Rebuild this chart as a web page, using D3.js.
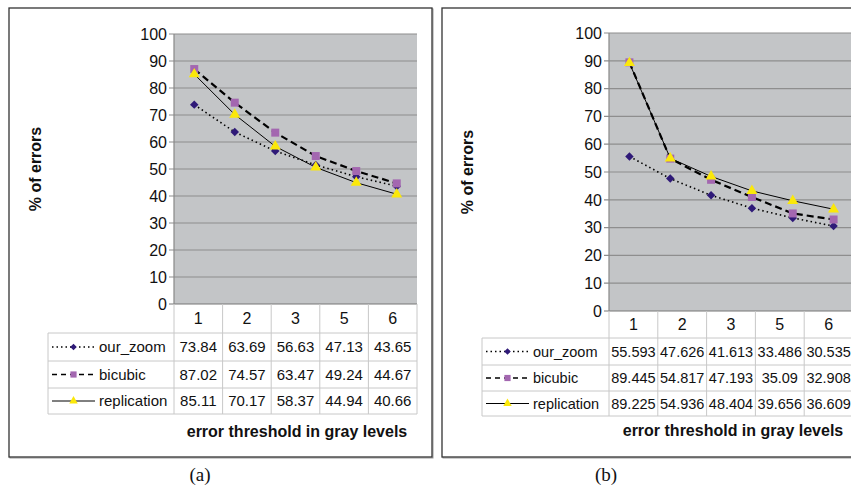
<!DOCTYPE html>
<html>
<head>
<meta charset="utf-8">
<script src="https://cdn.jsdelivr.net/npm/d3@7"></script>
<style>
  body { margin: 0; background: #fff; }
  svg { display: block; font-family: "Liberation Sans", Arial, sans-serif; }
</style>
</head>
<body>
<script>
// categories on the plot and columns shown in the table (column "4" is not in the table)
var categories = ["1", "2", "3", "4", "5", "6"];
var tableCategories = ["1", "2", "3", "5", "6"];
var seriesNames = ["our_zoom", "bicubic", "replication"];

// panel (a)
var zoomA = [73.84, 63.69, 56.63, 51.5, 47.13, 43.65];
var bicubicA = [87.02, 74.57, 63.47, 54.8, 49.24, 44.67];
var replicationA = [85.11, 70.17, 58.37, 50.6, 44.94, 40.66];
// panel (b)
var zoomB = [55.593, 47.626, 41.613, 37.0, 33.486, 30.535];
var bicubicB = [89.445, 54.817, 47.193, 41.0, 35.09, 32.908];
var replicationB = [89.225, 54.936, 48.404, 43.2, 39.656, 36.609];

var yTicks = [0, 10, 20, 30, 40, 50, 60, 70, 80, 90, 100];

var w = 851, h = 486;
var svg = d3.select("body").append("svg")
  .attr("width", w)
  .attr("height", h);

// rotate = 45 turns the square into a squat diamond like the excel marker
var styles = {
  our_zoom: { dash: "1.5,3", legendDash: "1.5,3", width: 1.6, marker: d3.symbolSquare, rotate: 45, color: "#2f1a78", size: 36 },
  bicubic: { dash: "7,4", legendDash: "5,4", width: 2.2, marker: d3.symbolSquare, rotate: 0, color: "#a367b0", size: 64 },
  replication: { dash: null, legendDash: null, width: 1, marker: d3.symbolTriangle, rotate: 0, color: "#fbe80a", size: 52 }
};

function drawPanel(cfg) {
  var g = svg.append("g");

  // frame
  g.append("rect")
    .attr("x", cfg.frame[0] + 1).attr("y", cfg.frame[1] + 1)
    .attr("width", cfg.frame[2]).attr("height", cfg.frame[3])
    .attr("fill", "none").attr("stroke", "#999").attr("stroke-width", 1);
  g.append("rect")
    .attr("x", cfg.frame[0]).attr("y", cfg.frame[1])
    .attr("width", cfg.frame[2]).attr("height", cfg.frame[3])
    .attr("fill", "#fff").attr("stroke", "#333").attr("stroke-width", 1.3);

  var x = d3.scaleBand().domain(categories).range([cfg.left, cfg.right]);
  var y = d3.scaleLinear().domain([0, 100]).range([cfg.bottom, cfg.top]);

  // plot background
  g.append("rect")
    .attr("x", cfg.left).attr("y", cfg.top)
    .attr("width", cfg.right - cfg.left).attr("height", cfg.bottom - cfg.top)
    .attr("fill", "#c3c5c7");

  // gridlines
  g.selectAll(".grid").data(yTicks).enter().append("line")
    .attr("x1", cfg.left - 5).attr("x2", cfg.right)
    .attr("y1", function(d) { return y(d); })
    .attr("y2", function(d) { return y(d); })
    .attr("stroke", function(d) { return d === 0 ? "#777" : "#8e8e8e"; })
    .attr("stroke-width", 1.2);

  // y axis line
  g.append("line")
    .attr("x1", cfg.left).attr("x2", cfg.left)
    .attr("y1", cfg.top).attr("y2", cfg.bottom)
    .attr("stroke", "#888").attr("stroke-width", 1.2);

  // tick labels
  g.selectAll(".ylab").data(yTicks).enter().append("text")
    .attr("x", cfg.left - 7)
    .attr("y", function(d) { return y(d); })
    .attr("dy", "0.36em")
    .attr("text-anchor", "end")
    .attr("font-size", 16)
    .attr("fill", "#111")
    .text(function(d) { return d; });

  // y title
  g.append("text")
    .attr("transform", "translate(" + cfg.yTitleX + "," + ((cfg.top + cfg.bottom) / 2) + ") rotate(-90)")
    .attr("dy", "0.35em")
    .attr("text-anchor", "middle")
    .attr("font-size", 16)
    .attr("font-weight", "bold")
    .attr("fill", "#111")
    .text("% of errors");

  // series
  var line = d3.line()
    .x(function(d, i) { return x(categories[i]) + x.bandwidth() / 2; })
    .y(function(d) { return y(d); });

  cfg.series.forEach(function(vals, k) {
    var st = styles[seriesNames[k]];
    g.append("path")
      .datum(vals)
      .attr("d", line)
      .attr("fill", "none")
      .attr("stroke", "#000")
      .attr("stroke-width", st.width)
      .attr("stroke-dasharray", st.dash);
  });
  cfg.series.forEach(function(vals, k) {
    var st = styles[seriesNames[k]];
    g.selectAll(".m" + k).data(vals).enter().append("path")
      .attr("transform", function(d, i) {
        return "translate(" + (x(categories[i]) + x.bandwidth() / 2) + "," + y(d) + ") rotate(" + st.rotate + ")";
      })
      .attr("d", d3.symbol().type(st.marker).size(st.size))
      .attr("fill", st.color);
  });

  // data table
  var cols = d3.scaleBand().domain(tableCategories).range([cfg.left, cfg.tableRight]);
  var rows = cfg.rows; // y boundaries: header, r1, r2, r3
  var gridColor = "#c8c8c8";

  // header verticals
  var vx = cols.domain().map(function(c) { return cols(c); }).concat([cfg.tableRight]);
  g.selectAll(".vline").data(vx).enter().append("line")
    .attr("x1", function(d) { return d; }).attr("x2", function(d) { return d; })
    .attr("y1", rows[0]).attr("y2", rows[4])
    .attr("stroke", gridColor).attr("stroke-width", 1);
  g.append("line")
    .attr("x1", cfg.tableLeft).attr("x2", cfg.tableLeft)
    .attr("y1", rows[1]).attr("y2", rows[4])
    .attr("stroke", gridColor);
  g.selectAll(".hline").data(rows.slice(1)).enter().append("line")
    .attr("x1", cfg.tableLeft).attr("x2", cfg.tableRight)
    .attr("y1", function(d) { return d; }).attr("y2", function(d) { return d; })
    .attr("stroke", gridColor);

  // header labels
  g.selectAll(".hlab").data(tableCategories).enter().append("text")
    .attr("x", function(d) { return cols(d) + cols.bandwidth() / 2; })
    .attr("y", (rows[0] + rows[1]) / 2)
    .attr("dy", "0.36em")
    .attr("text-anchor", "middle")
    .attr("font-size", 16)
    .attr("fill", "#111")
    .text(function(d) { return d; });

  // rows
  cfg.series.forEach(function(vals, k) {
    var st = styles[seriesNames[k]];
    var cy = (rows[k + 1] + rows[k + 2]) / 2;
    var sx0 = cfg.tableLeft + 4, sx1 = cfg.tableLeft + 47;
    g.append("line")
      .attr("x1", sx0).attr("x2", sx1).attr("y1", cy).attr("y2", cy)
      .attr("stroke", "#000")
      .attr("stroke-width", Math.min(st.width, 1.4))
      .attr("stroke-dasharray", st.legendDash);
    g.append("path")
      .attr("transform", "translate(" + ((sx0 + sx1) / 2) + "," + cy + ") rotate(" + st.rotate + ")")
      .attr("d", d3.symbol().type(st.marker).size(st.size * 0.6))
      .attr("fill", st.color);
    g.append("text")
      .attr("x", sx1 + 4).attr("y", cy).attr("dy", "0.36em")
      .attr("font-size", cfg.tableFont)
      .attr("fill", "#111")
      .text(seriesNames[k]);
    g.selectAll(".cell" + k).data(tableCategories).enter().append("text")
      .attr("x", function(d) { return cols(d) + cols.bandwidth() / 2; })
      .attr("y", cy).attr("dy", "0.36em")
      .attr("text-anchor", "middle")
      .attr("font-size", cfg.tableFont)
      .attr("fill", "#111")
      .text(function(d) { return String(vals[categories.indexOf(d)]); });
  });

  // x title
  g.append("text")
    .attr("x", cfg.xTitleX).attr("y", cfg.xTitleY)
    .attr("text-anchor", "middle")
    .attr("font-size", 16)
    .attr("font-weight", "bold")
    .attr("fill", "#111")
    .text("error threshold in gray levels");

  // caption
  g.append("text")
    .attr("x", cfg.captionX).attr("y", 481)
    .attr("text-anchor", "middle")
    .attr("font-family", "'Liberation Serif', 'Times New Roman', serif")
    .attr("font-size", 19)
    .attr("fill", "#111")
    .text(cfg.caption);
}

drawPanel({
  frame: [9, 8, 423, 449],
  left: 174, right: 417, top: 34, bottom: 304,
  tableLeft: 48, tableRight: 417,
  rows: [304, 333, 361, 388, 414],
  tableFont: 15,
  yTitleX: 35,
  xTitleX: 297, xTitleY: 437,
  captionX: 200, caption: "(a)",
  series: [zoomA, bicubicA, replicationA]
});

drawPanel({
  frame: [442, 8, 430, 449],
  left: 609, right: 854, top: 33, bottom: 311,
  tableLeft: 482, tableRight: 853,
  rows: [311, 338, 365, 391, 416],
  tableFont: 14.5,
  yTitleX: 467,
  xTitleX: 733, xTitleY: 436,
  captionX: 606, caption: "(b)",
  series: [zoomB, bicubicB, replicationB]
});
</script>
</body>
</html>
